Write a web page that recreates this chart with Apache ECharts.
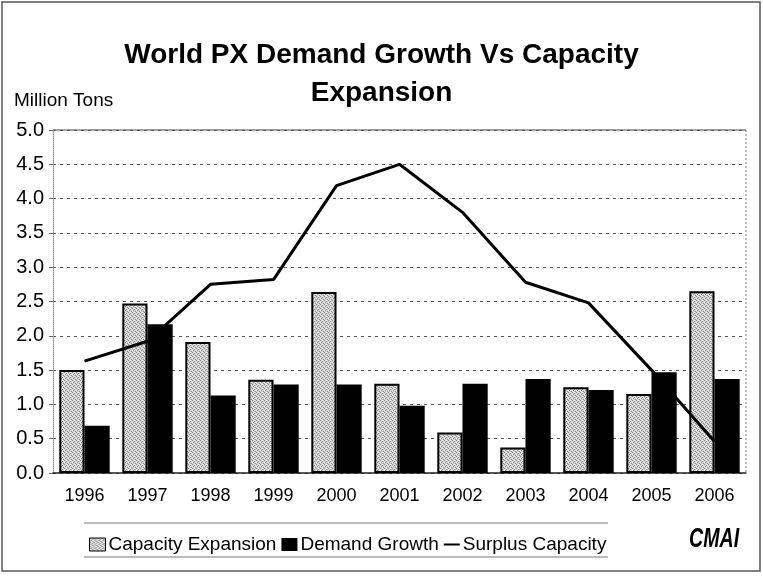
<!DOCTYPE html>
<html>
<head>
<meta charset="utf-8">
<script src="https://cdn.jsdelivr.net/npm/echarts@6/dist/echarts.min.js"></script>
<style>
html,body{margin:0;padding:0;background:#fff;}
#chart{width:763px;height:577px;}
</style>
</head>
<body>
<div id="chart"></div>
<script>
var years = ['1996','1997','1998','1999','2000','2001','2002','2003','2004','2005','2006'];
var capacityExpansion = [1.50, 2.47, 1.91, 1.36, 2.64, 1.30, 0.59, 0.37, 1.25, 1.15, 2.65];
var demandGrowth = [0.69, 2.17, 1.13, 1.29, 1.29, 0.98, 1.30, 1.37, 1.21, 1.47, 1.37];
var surplusCapacity = [1.63, 1.92, 2.75, 2.82, 4.19, 4.50, 3.80, 2.78, 2.48, 1.50, 0.46];
var yTicks = ['0.0','0.5','1.0','1.5','2.0','2.5','3.0','3.5','4.0','4.5','5.0'];

// stipple pattern for capacity bars
var pc = document.createElement('canvas');
pc.width = 4; pc.height = 4;
var pctx = pc.getContext('2d');
pctx.fillStyle = '#d4d4d4';
pctx.fillRect(0,0,4,4);
pctx.fillStyle = '#8a8a8a';
pctx.fillRect(0,0,1,1); pctx.fillRect(2,1,1,1); pctx.fillRect(1,2,1,1); pctx.fillRect(3,3,1,1);
pctx.fillStyle = '#f2f2f2';
pctx.fillRect(2,0,1,1); pctx.fillRect(0,2,1,1);
var stipple = {image: pc, repeat: 'repeat'};

var chart = echarts.init(document.getElementById('chart'), null, {renderer: 'canvas'});
var font = 'Liberation Sans, Arial, sans-serif';
chart.setOption({
  backgroundColor: '#fff',
  animation: false,
  textStyle: {fontFamily: font, color: '#000'},
  title: {
    text: 'World PX Demand Growth Vs Capacity\nExpansion',
    left: 'center',
    top: 31,
    textStyle: {fontFamily: font, fontSize: 28, fontWeight: 'bold', color: '#000', lineHeight: 38}
  },
  legend: {
    left: 84,
    top: 530,
    itemWidth: 16,
    itemHeight: 13,
    itemGap: 5,
    textStyle: {fontFamily: font, fontSize: 19, color: '#000', padding: [0,0,0,-2]},
    data: [
      {name: 'Capacity Expansion', icon: 'rect', itemStyle: {color: stipple, borderColor: '#000', borderWidth: 1}},
      {name: 'Demand Growth', icon: 'rect'},
      {name: 'Surplus Capacity', icon: 'path://M0,0 L20,0 L20,2.5 L0,2.5 Z', itemStyle: {color: '#000', borderWidth: 0}}
    ]
  },
  grid: {left: 53, right: 17, top: 130, bottom: 104, containLabel: false},
  xAxis: {
    type: 'category',
    data: years,
    axisLine: {show: true, lineStyle: {color: '#222', width: 1.5}},
    axisTick: {show: false},
    axisLabel: {fontFamily: font, fontSize: 18, color: '#000', margin: 14},
    splitLine: {show: false}
  },
  yAxis: {
    type: 'value',
    min: 0, max: 5, interval: 0.5,
    axisLine: {show: true, lineStyle: {color: '#888', type: 'dotted', width: 1}},
    axisTick: {show: true, length: 4, lineStyle: {color: '#666'}},
    axisLabel: {fontFamily: font, fontSize: 20, color: '#000', margin: 9,
      formatter: function (v) { return yTicks[Math.round(v / 0.5)]; }},
    splitLine: {show: true, lineStyle: {color: '#555', type: [3, 4], width: 1}}
  },
  series: [
    {
      name: 'Capacity Expansion', type: 'bar', data: capacityExpansion,
      barGap: '0%', barCategoryGap: '20%',
      itemStyle: {color: stipple, borderColor: '#000', borderWidth: 2}
    },
    {
      name: 'Demand Growth', type: 'bar', data: demandGrowth,
      itemStyle: {color: '#000'}
    },
    {
      name: 'Surplus Capacity', type: 'line', data: surplusCapacity,
      symbol: 'none', showSymbol: false,
      lineStyle: {color: '#000', width: 3},
      itemStyle: {color: '#000'},
      z: 5
    }
  ],
  graphic: [
    {type: 'text', left: 14, top: 91, style: {text: 'Million Tons', fontFamily: font, fontSize: 19, fill: '#000'}},
    {type: 'line', shape: {x1: 746, y1: 130, x2: 746, y2: 473}, style: {stroke: '#777', lineDash: [2, 2], lineWidth: 1}},
    {type: 'line', shape: {x1: 53, y1: 130, x2: 746, y2: 130}, style: {stroke: '#444', lineWidth: 1.2}},
    {type: 'line', shape: {x1: 84, y1: 523, x2: 608, y2: 523}, style: {stroke: '#777', lineWidth: 1}},
    {type: 'line', shape: {x1: 84, y1: 557, x2: 608, y2: 557}, style: {stroke: '#777', lineWidth: 1}},
    {type: 'text', x: 689, y: 525, scaleX: 0.7, style: {text: 'CMAI', fontFamily: font, fontSize: 28, fontStyle: 'italic', fontWeight: 'bold', fill: '#000'}},
    {type: 'rect', shape: {x: 2, y: 2, width: 758, height: 569}, style: {fill: 'none', stroke: '#555', lineWidth: 1.5}}
  ]
});
</script>
</body>
</html>
